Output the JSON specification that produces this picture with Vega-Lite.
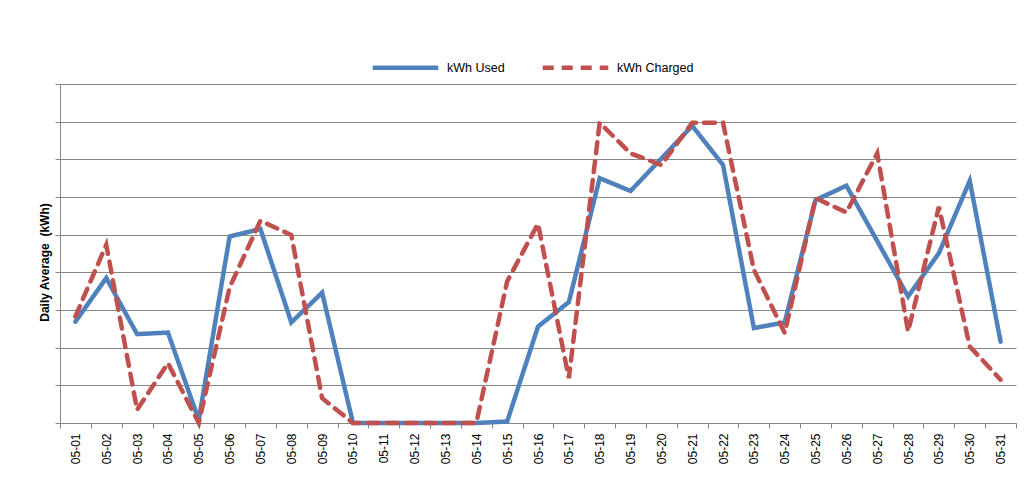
{
  "$schema": "https://vega.github.io/schema/vega-lite/v6.json",
  "autosize": {"type": "none"},
  "width": 956,
  "height": 339,
  "padding": {"left": 60, "top": 84, "right": 16, "bottom": 56},
  "background": "white",
  "config": {
    "view": {"stroke": null},
    "font": "Liberation Sans"
  },
  "data": {
    "values": [
      {"date": "05-01", "series": "kWh Used", "value": 2.69},
      {"date": "05-02", "series": "kWh Used", "value": 3.85},
      {"date": "05-03", "series": "kWh Used", "value": 2.36},
      {"date": "05-04", "series": "kWh Used", "value": 2.40},
      {"date": "05-05", "series": "kWh Used", "value": 0.08},
      {"date": "05-06", "series": "kWh Used", "value": 4.95},
      {"date": "05-07", "series": "kWh Used", "value": 5.15},
      {"date": "05-08", "series": "kWh Used", "value": 2.67},
      {"date": "05-09", "series": "kWh Used", "value": 3.46},
      {"date": "05-10", "series": "kWh Used", "value": 0},
      {"date": "05-11", "series": "kWh Used", "value": 0},
      {"date": "05-12", "series": "kWh Used", "value": 0},
      {"date": "05-13", "series": "kWh Used", "value": 0},
      {"date": "05-14", "series": "kWh Used", "value": 0},
      {"date": "05-15", "series": "kWh Used", "value": 0.04},
      {"date": "05-16", "series": "kWh Used", "value": 2.56},
      {"date": "05-17", "series": "kWh Used", "value": 3.21},
      {"date": "05-18", "series": "kWh Used", "value": 6.50},
      {"date": "05-19", "series": "kWh Used", "value": 6.16},
      {"date": "05-20", "series": "kWh Used", "value": 7.02},
      {"date": "05-21", "series": "kWh Used", "value": 7.89},
      {"date": "05-22", "series": "kWh Used", "value": 6.85},
      {"date": "05-23", "series": "kWh Used", "value": 2.52},
      {"date": "05-24", "series": "kWh Used", "value": 2.67},
      {"date": "05-25", "series": "kWh Used", "value": 5.92},
      {"date": "05-26", "series": "kWh Used", "value": 6.30},
      {"date": "05-27", "series": "kWh Used", "value": 4.83},
      {"date": "05-28", "series": "kWh Used", "value": 3.36},
      {"date": "05-29", "series": "kWh Used", "value": 4.51},
      {"date": "05-30", "series": "kWh Used", "value": 6.43},
      {"date": "05-31", "series": "kWh Used", "value": 2.16},
      {"date": "05-01", "series": "kWh Charged", "value": 2.83},
      {"date": "05-02", "series": "kWh Charged", "value": 4.73},
      {"date": "05-03", "series": "kWh Charged", "value": 0.35},
      {"date": "05-04", "series": "kWh Charged", "value": 1.59},
      {"date": "05-05", "series": "kWh Charged", "value": 0},
      {"date": "05-06", "series": "kWh Charged", "value": 3.6},
      {"date": "05-07", "series": "kWh Charged", "value": 5.37},
      {"date": "05-08", "series": "kWh Charged", "value": 4.99},
      {"date": "05-09", "series": "kWh Charged", "value": 0.66},
      {"date": "05-10", "series": "kWh Charged", "value": 0},
      {"date": "05-11", "series": "kWh Charged", "value": 0},
      {"date": "05-12", "series": "kWh Charged", "value": 0},
      {"date": "05-13", "series": "kWh Charged", "value": 0},
      {"date": "05-14", "series": "kWh Charged", "value": 0},
      {"date": "05-15", "series": "kWh Charged", "value": 3.76},
      {"date": "05-16", "series": "kWh Charged", "value": 5.29},
      {"date": "05-17", "series": "kWh Charged", "value": 1.19},
      {"date": "05-18", "series": "kWh Charged", "value": 7.97},
      {"date": "05-19", "series": "kWh Charged", "value": 7.16},
      {"date": "05-20", "series": "kWh Charged", "value": 6.85},
      {"date": "05-21", "series": "kWh Charged", "value": 7.97},
      {"date": "05-22", "series": "kWh Charged", "value": 7.97},
      {"date": "05-23", "series": "kWh Charged", "value": 4.07},
      {"date": "05-24", "series": "kWh Charged", "value": 2.39},
      {"date": "05-25", "series": "kWh Charged", "value": 5.97},
      {"date": "05-26", "series": "kWh Charged", "value": 5.59},
      {"date": "05-27", "series": "kWh Charged", "value": 7.16},
      {"date": "05-28", "series": "kWh Charged", "value": 2.43},
      {"date": "05-29", "series": "kWh Charged", "value": 5.74},
      {"date": "05-30", "series": "kWh Charged", "value": 2.03},
      {"date": "05-31", "series": "kWh Charged", "value": 1.15}
    ]
  },
  "mark": {"type": "line", "strokeWidth": 4.5, "strokeCap": "round", "strokeJoin": "miter"},
  "encoding": {
    "x": {
      "field": "date",
      "type": "ordinal",
      "sort": null,
      "scale": {"type": "band", "paddingInner": 0, "paddingOuter": 0},
      "axis": {
        "title": null,
        "tickBand": "extent",
        "domainColor": "#868686",
        "tickColor": "#868686",
        "tickSize": 5,
        "labelAngle": -90,
        "labelAlign": "right",
        "labelBaseline": "middle",
        "labelFontSize": 12,
        "labelColor": "#000000",
        "labelPadding": 5,
        "grid": false
      }
    },
    "y": {
      "field": "value",
      "type": "quantitative",
      "scale": {"domain": [0, 9], "nice": false},
      "axis": {
        "title": "Daily Average \u00a0(kWh)",
        "titleFontSize": 12,
        "titleFontWeight": "bold",
        "titleColor": "#000000",
        "titlePadding": 3,
        "titleY": 178,
        "labels": false,
        "values": [0, 1, 2, 3, 4, 5, 6, 7, 8, 9],
        "grid": true,
        "gridColor": "#868686",
        "gridWidth": 1,
        "domainColor": "#868686",
        "tickColor": "#868686",
        "tickSize": 5
      }
    },
    "color": {
      "field": "series",
      "type": "nominal",
      "scale": {"domain": ["kWh Used", "kWh Charged"], "range": ["#4F81BD", "#C0504D"]},
      "legend": {
        "title": null,
        "orient": "none",
        "direction": "horizontal",
        "legendX": 310,
        "legendY": -52,
        "symbolType": "stroke",
        "symbolSize": 4300,
        "symbolStrokeWidth": 4.5,
        "labelFontSize": 12.5,
        "labelColor": "#000000",
        "columnPadding": 28,
        "labelOffset": 6
      }
    },
    "strokeDash": {
      "field": "series",
      "type": "nominal",
      "scale": {"domain": ["kWh Used", "kWh Charged"], "range": [[1, 0], [11, 8]]},
      "legend": null
    }
  }
}
